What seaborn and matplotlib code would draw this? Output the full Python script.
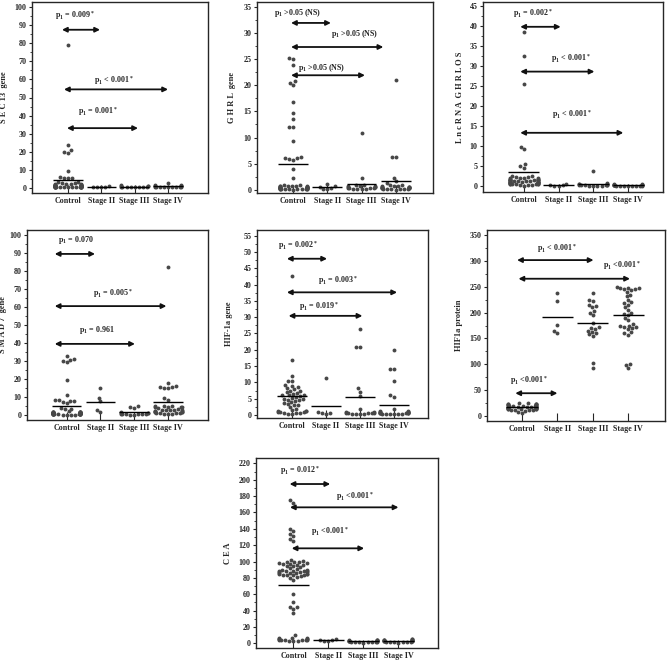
import numpy as np
import pandas as pd
import seaborn as sns
import matplotlib.pyplot as plt
from matplotlib.ticker import MultipleLocator, AutoMinorLocator

### dados (valores por grupo)
grupos = ["Control", "Stage II", "Stage III", "Stage IV"]

sec13 = {
    "Control": [0.1, 0.2, 0.2, 0.3, 0.3, 0.4, 0.4, 0.5, 0.5, 0.6, 0.6, 0.7, 0.7, 0.8, 0.8, 0.9, 0.9, 1.0, 1.0,
                1.1, 1.2, 1.3, 1.4, 1.5, 1.6, 1.7, 1.8, 2.0, 2.1, 2.2, 2.4, 2.6, 3.0, 3.2,
                0.3, 0.4, 0.5, 0.5, 0.6, 0.6, 0.7, 0.8, 0.9, 1.0, 1.2, 1.5,
                5.3, 5.5, 5.6, 5.8, 9.0, 19.0, 20.0, 20.6, 23.6, 79.0],
    "Stage II": [0.1, 0.2, 0.3, 0.4, 0.7],
    "Stage III": [0.1, 0.2, 0.2, 0.3, 0.4, 0.5, 0.5, 0.6, 0.7, 0.8, 1.0, 1.3],
    "Stage IV": [0.1, 0.1, 0.2, 0.3, 0.3, 0.4, 0.5, 0.6, 0.6, 0.8, 0.9, 1.0, 1.2, 1.5, 2.8],
}

ghrl = {
    "Control": [0.05, 0.1, 0.1, 0.15, 0.2, 0.2, 0.25, 0.3, 0.3, 0.35, 0.4, 0.4, 0.45, 0.5, 0.5, 0.55, 0.6,
                0.6, 0.65, 0.7, 0.7, 0.75, 0.8, 0.8, 0.85, 0.9, 0.15, 0.25, 0.35, 0.45, 0.3, 0.2, 0.1, 0.6, 0.5,
                2.3, 4.0, 5.8, 5.9, 6.0, 6.1, 6.2, 9.3, 12.0, 12.0, 13.5, 14.6, 16.7, 20.1, 20.5, 20.8,
                23.8, 25.0, 25.2],
    "Stage II": [0.1, 0.2, 0.3, 0.5, 0.7, 1.2],
    "Stage III": [0.1, 0.15, 0.2, 0.25, 0.3, 0.35, 0.4, 0.45, 0.5, 0.55, 0.6, 0.65, 0.7, 0.8, 0.9, 1.0,
                  2.3, 10.9],
    "Stage IV": [0.05, 0.1, 0.1, 0.15, 0.2, 0.2, 0.25, 0.3, 0.3, 0.35, 0.4, 0.4, 0.45, 0.5, 0.5, 0.55, 0.6,
                 0.6, 0.7, 0.75, 0.8, 0.9, 1.0, 1.3, 1.6, 2.3, 6.2, 6.3, 20.9],
}

lncrna = {
    "Control": [0.1, 0.2, 0.3, 0.3, 0.4, 0.5, 0.5, 0.6, 0.6, 0.7, 0.7, 0.8, 0.8, 0.9, 0.9, 1.0, 1.0, 1.0,
                1.1, 1.1, 1.2, 1.2, 1.3, 1.3, 1.4, 1.4, 1.5, 1.5, 1.6, 1.6, 1.7, 1.8, 1.9, 2.0, 2.1, 2.2,
                2.3, 2.4, 2.5, 0.4, 0.6, 0.8, 1.0, 1.2, 1.4, 1.6, 2.0,
                4.6, 5.0, 5.5, 9.2, 9.8, 25.5, 32.5, 38.5],
    "Stage II": [0.05, 0.1, 0.15, 0.2, 0.5],
    "Stage III": [0.0, 0.05, 0.1, 0.1, 0.15, 0.2, 0.2, 0.25, 0.3, 0.35, 0.4, 0.5, 0.6, 0.8, 3.7],
    "Stage IV": [0.0, 0.02, 0.05, 0.05, 0.08, 0.1, 0.1, 0.12, 0.15, 0.15, 0.18, 0.2, 0.2, 0.25, 0.3,
                 0.35, 0.45, 0.6],
}

smad7 = {
    "Control": [0.1, 0.1, 0.2, 0.2, 0.3, 0.3, 0.4, 0.4, 0.5, 0.5, 0.6, 0.6, 0.7, 0.7, 0.8, 0.8, 0.9, 0.9,
                1.0, 1.0, 1.1, 1.1, 1.2, 1.2, 1.3, 1.3, 1.4, 1.4, 1.5, 1.5, 1.6, 1.6, 1.7, 1.8, 1.9, 2.0,
                0.3, 0.5, 0.7, 0.9, 1.1, 1.3,
                3.2, 3.5, 3.8, 6.5, 7.0, 7.5, 8.0, 8.2, 8.5, 11.0, 19.5, 29.5, 30.0, 30.5, 31.0, 32.5],
    "Stage II": [1.5, 3.0, 7.5, 9.5, 15.0],
    "Stage III": [0.1, 0.2, 0.3, 0.4, 0.5, 0.6, 0.7, 0.8, 0.9, 1.0, 1.2, 1.5, 4.0, 4.6, 5.1],
    "Stage IV": [0.5, 0.7, 0.8, 1.0, 1.0, 1.2, 1.3, 1.5, 1.5, 1.7, 1.8, 2.0, 2.0, 2.2, 2.5, 2.5, 2.8,
                 3.0, 3.0, 3.3, 4.0, 4.2, 4.4, 4.5, 4.6, 4.8, 5.0, 5.2, 8.5, 9.2, 15.0, 15.2, 15.5,
                 15.8, 16.0, 17.8, 82.0],
}

hif_gene = {
    "Control": [0.3, 0.4, 0.5, 0.6, 0.7, 0.8, 0.9, 1.0, 1.1, 1.2, 1.3, 1.5, 2.0, 2.5, 3.0, 3.2, 3.5, 3.8,
                4.0, 4.2, 4.5, 4.7, 5.0, 5.0, 5.2, 5.5, 5.8, 6.0, 6.0, 6.2, 6.5, 6.8, 7.0, 7.3, 7.5, 8.0,
                8.2, 8.5, 9.0, 9.2, 10.3, 10.5, 12.0, 17.0, 42.5],
    "Stage II": [0.3, 0.5, 0.6, 0.9, 11.5],
    "Stage III": [0.2, 0.3, 0.3, 0.4, 0.5, 0.5, 0.6, 0.6, 0.7, 0.8, 1.0, 2.0, 5.8, 7.2, 8.3, 21.0, 21.0,
                  26.5],
    "Stage IV": [0.2, 0.2, 0.3, 0.3, 0.4, 0.4, 0.5, 0.5, 0.6, 0.6, 0.6, 0.7, 0.7, 0.8, 0.8, 0.9, 1.0,
                 1.0, 1.1, 1.2, 2.0, 5.5, 6.0, 10.3, 14.0, 14.0, 20.0],
}

hif_proteina = {
    "Control": [5, 8, 10, 11, 12, 12, 13, 13, 14, 14, 15, 15, 15, 16, 16, 16, 17, 17, 17, 18, 18, 18, 19,
                19, 19, 20, 20, 20, 21, 21, 21, 22, 22, 22, 23, 23, 24, 24, 12, 14],
    "Stage II": [160, 165, 176, 222, 237],
    "Stage III": [92, 102, 155, 158, 160, 163, 165, 168, 170, 172, 180, 195, 200, 203, 210, 213, 215, 222,
                  225, 238],
    "Stage IV": [92, 98, 100, 157, 160, 163, 168, 170, 172, 172, 174, 175, 178, 185, 190, 195, 198, 200,
                 205, 210, 215, 218, 220, 225, 232, 235, 240, 243, 245, 246, 247, 248, 248, 250],
}

cea = {
    "Control": [2.5, 3.0, 3.0, 3.5, 3.5, 4.0, 4.0, 4.5, 4.5, 5.0, 5.0, 5.5, 5.5, 6.0, 6.5, 7.0, 10.0,
                37, 42, 44, 45, 50, 60,
                78, 80, 81, 82, 83, 83, 84, 84, 85, 85, 85, 86, 86, 86, 87, 87, 87, 88, 88, 88, 89, 89,
                90, 90, 91, 92, 93, 94, 95, 96, 96, 97, 97, 98, 98, 99, 100, 100, 101, 102,
                125, 128, 131, 134, 137, 140, 172, 175],
    "Stage II": [2.5, 3.0, 3.5, 4.0, 5.0],
    "Stage III": [1.0, 1.2, 1.5, 1.5, 1.8, 2.0, 2.0, 2.2, 2.5, 2.5, 2.8, 3.0, 3.0, 3.2, 3.5, 3.5, 3.8, 4.0],
    "Stage IV": [1.0, 1.2, 1.5, 1.8, 2.0, 2.0, 2.2, 2.5, 2.5, 2.8, 3.0, 3.0, 3.2, 3.5, 3.8, 4.0, 4.2, 4.5,
                 4.8, 5.0],
}

### rotulos dos eixos
rotulos_y = ["S E C 13  gene", "G H R L  gene", "L n c R N A  G H R L O S", "S M A D 7  gene",
             "HIF-1a gene", "HIF1a protein", "C E A"]

### comparacoes: (texto, estrela, seta x0, seta x1, seta y, texto x, texto y)
p_sec13 = [("= 0.009", True, -0.18, 0.96, 87.6, 0.2, 95.5),
           ("< 0.001", True, -0.12, 3.0, 54.5, 1.36, 59.6),
           ("= 0.001", True, -0.03, 2.1, 33.0, 0.9, 42.0)]
p_ghrl = [(">0.05 (NS)", False, -0.07, 1.1, 31.9, 0.12, 33.8),
          (">0.05 (NS)", False, -0.07, 2.64, 27.3, 1.79, 29.8),
          (">0.05 (NS)", False, -0.07, 2.1, 21.9, 0.82, 23.2)]
p_lnc = [("= 0.002", True, -0.1, 1.06, 39.8, 0.25, 43.2),
         ("< 0.001", True, -0.1, 2.03, 28.6, 1.34, 31.9),
         ("< 0.001", True, -0.1, 2.86, 13.3, 1.39, 17.8)]
p_smad = [("= 0.070", False, -0.35, 0.84, 89.5, 0.27, 97.2),
          ("= 0.005", True, -0.35, 2.95, 60.5, 1.37, 67.6),
          ("= 0.961", False, -0.35, 2.02, 39.5, 0.89, 47.2)]
p_hif = [("= 0.002", True, -0.15, 1.03, 47.9, 0.18, 52.1),
         ("= 0.003", True, -0.15, 3.09, 37.6, 1.36, 41.1),
         ("= 0.019", True, -0.1, 2.07, 30.4, 0.78, 33.2)]
p_prot = [("< 0.001", True, -0.14, 2.02, 301.7, 0.99, 323.7),
          ("<0.001", True, -0.1, 3.05, 265.6, 2.82, 292.0),
          ("<0.001", True, -0.19, 1.0, 43.8, 0.18, 67.7)]
p_cea = [("= 0.012", True, -0.11, 1.05, 194.7, 0.19, 211.0),
         ("<0.001", True, -0.1, 3.0, 166.2, 1.76, 179.3),
         ("<0.001", True, -0.05, 2.02, 116.1, 1.05, 136.5)]

### estilo
sns.set_style("ticks")
plt.rcParams['font.family'] = ['Liberation Serif', 'DejaVu Serif']
plt.rcParams['font.weight'] = 'bold'
plt.rcParams['mathtext.fontset'] = 'custom'
plt.rcParams['mathtext.rm'] = 'Liberation Serif:bold'
plt.rcParams['mathtext.it'] = 'Liberation Serif:bold'
plt.rcParams['mathtext.bf'] = 'Liberation Serif:bold'

W, H = 669, 663
fig = plt.figure(figsize=(W / 100, H / 100), dpi=100)

# (dados, comparacoes, caixa em px: esq, dir, topo, base, x do rotulo y em px, xlim, ylim, passo y)
paineis = [
    (sec13, p_sec13, (32, 208, 2, 193), 8, (-1.08, 4.2), (-3, 103), 10),
    (ghrl, p_ghrl, (257, 433, 2, 193), 236, (-1.07, 4.1), (-0.6, 35.9), 5),
    (lncrna, p_lnc, (483, 663, 2, 192), 464, (-1.17, 4.0), (-1.5, 46), 5),
    (smad7, p_smad, (27, 208, 230, 420), 7, (-1.17, 4.18), (-2.8, 102.8), 10),
    (hif_gene, p_hif, (257, 428, 230, 418), 233, (-1.03, 4.0), (-0.9, 56.7), 5),
    (hif_proteina, p_prot, (487, 665, 230, 421), 463, (-0.99, 4.04), (-10, 360), 50),
    (cea, p_cea, (256, 438, 458, 648), 232, (-1.07, 4.13), (-5.7, 226.5), 20),
]

for k, (dados, comps, caixa, xrot, xl, yl, passo) in enumerate(paineis):
    esq, dir_, topo, base = caixa
    ax = fig.add_axes([esq / W, 1 - base / H, (dir_ - esq) / W, (base - topo) / H])

    df = pd.DataFrame([(g, v) for g in grupos for v in dados[g]], columns=["grupo", "valor"])
    sns.swarmplot(data=df, x="grupo", y="valor", order=grupos, ax=ax, size=2.8,
                  color="#474747", linewidth=0, warn_thresh=1)

    # linha da media de cada grupo
    for i, g in enumerate(grupos):
        ax.hlines(np.mean(dados[g]), i - 0.44, i + 0.44, color="black", lw=1.0, zorder=3)

    # setas de comparacao
    for txt, est, x0, x1, y, tx, ty in comps:
        ax.annotate("", xy=(x1, y), xytext=(x0, y),
                    arrowprops=dict(arrowstyle="<|-|>", color="#111111", lw=1.3,
                                    mutation_scale=7, shrinkA=0, shrinkB=0))
        rotulo = r"p$_1$ " + txt + (r"$^*$" if est else "")
        ax.text(tx, ty, rotulo, ha="center", va="center", fontsize=5.8, fontweight="bold")

    ax.set_xlim(*xl)
    ax.set_ylim(*yl)
    ax.yaxis.set_major_locator(MultipleLocator(passo))
    ax.yaxis.set_minor_locator(AutoMinorLocator(2))
    ax.set_xlabel("")
    ax.set_ylabel(rotulos_y[k], fontsize=6, fontweight="bold")
    ax.yaxis.set_label_coords((xrot - esq) / (dir_ - esq), 0.5)
    ax.tick_params(axis="x", direction="in", length=6, width=0.8, labelsize=5.8, pad=3)
    ax.tick_params(axis="y", which="major", direction="out", length=2.5, width=0.8, labelsize=5.8, pad=1.5)
    ax.tick_params(axis="y", which="minor", direction="out", length=1.5, width=0.6)
    for s in ax.spines.values():
        s.set_linewidth(1.0)
        s.set_visible(True)
    for lab in ax.get_xticklabels() + ax.get_yticklabels():
        lab.set_fontweight("bold")

fig.savefig("out.png", dpi=100)
